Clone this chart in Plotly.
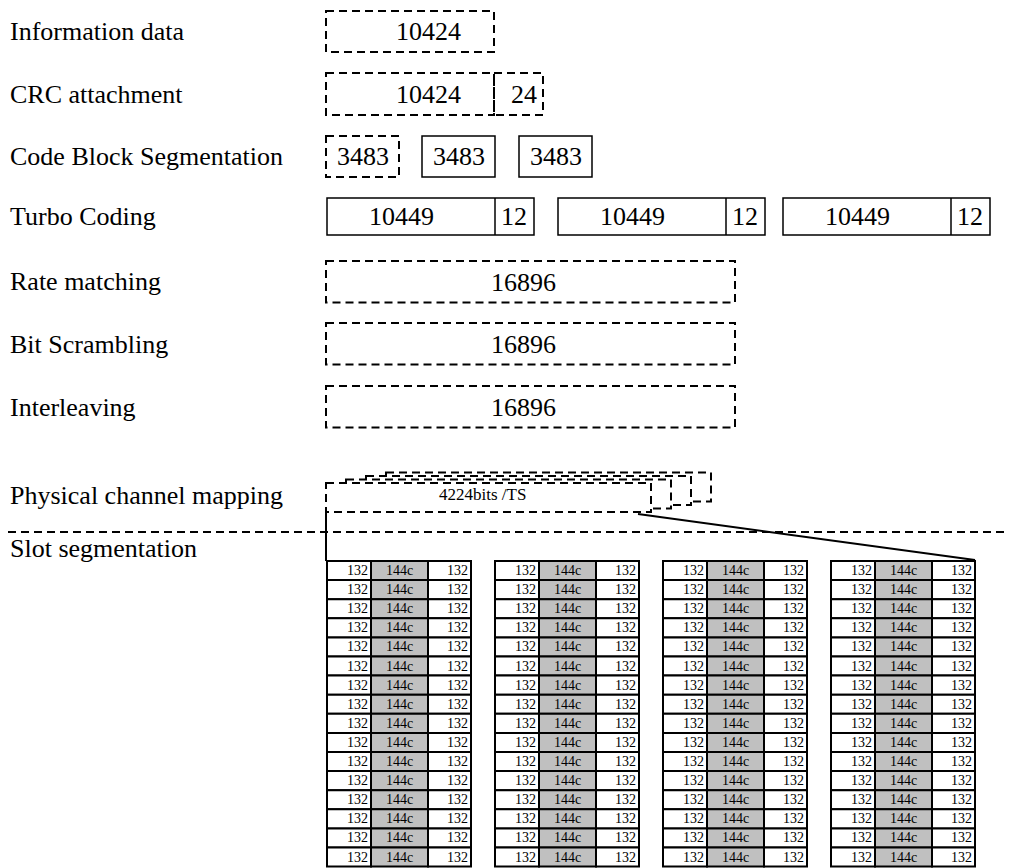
import plotly.graph_objects as go

# stage names (left column)
stages = ["Information data", "CRC attachment", "Code Block Segmentation", "Turbo Coding",
          "Rate matching", "Bit Scrambling", "Interleaving", "Physical channel mapping",
          "Slot segmentation"]

info_bits = "10424"
crc_bits = "24"
cb_sizes = ["3483", "3483", "3483"]
turbo_sizes = ["10449", "10449", "10449"]
tail_bits = ["12", "12", "12"]
rm_blocks = ["16896", "16896", "16896"]   # rate matching, scrambling, interleaving
ts_label = "4224bits /TS"
n_ts = 4
n_rows = 16
slot_cells = ["132", "144c", "132"]

W, H = 1016, 868
PAD = 8  # page body margin, so axis units match window pixels
FONT = "Times New Roman, Liberation Serif, serif"
DASH = "8px,5px"

shapes = []
annots = []


def box(x0, y0, x1, y1, dashed=True, fill="rgba(0,0,0,0)", width=2):
    shapes.append(dict(type="rect", x0=x0, y0=y0, x1=x1, y1=y1, xref="x", yref="y",
                       line=dict(color="black", width=width, dash=DASH if dashed else "solid"),
                       fillcolor=fill, layer="above"))


def line(x0, y0, x1, y1, dashed=False, width=2):
    shapes.append(dict(type="line", x0=x0, y0=y0, x1=x1, y1=y1, xref="x", yref="y",
                       line=dict(color="black", width=width, dash=DASH if dashed else "solid"),
                       layer="above"))


def text(x, y, s, size=26, anchor="center"):
    annots.append(dict(x=x, y=y, text=s, showarrow=False, xref="x", yref="y",
                       xanchor=anchor, yanchor="middle",
                       font=dict(family=FONT, size=size, color="black")))


# left labels
stage_y = [31.5, 94, 156.5, 216.5, 281.5, 344, 407, 495, 548]
for name, y in zip(stages, stage_y):
    text(8, y, name, anchor="left")

# information data
box(326, 11, 494, 52)
text(428, 31.5, info_bits)

# crc attachment
box(326, 73, 494, 115)
box(494, 73, 543, 115)
text(428, 94, info_bits)
text(524, 94, crc_bits)

# code block segmentation
for i, (x0, s) in enumerate(zip([326, 422, 519], cb_sizes)):
    box(x0, 136, x0 + 73, 177, dashed=(i == 0), width=2 if i == 0 else 1.5)
    text(x0 + 36.5, 156.5, s)

# turbo coding
for x0, s, t in zip([327, 558, 783], turbo_sizes, tail_bits):
    box(x0, 198, x0 + 207, 235, dashed=False, width=1.5)
    line(x0 + 168, 198, x0 + 168, 235, width=1.5)
    text(x0 + 74, 216.5, s)
    text(x0 + 187, 216.5, t)

# rate matching / bit scrambling / interleaving
for y0, s in zip([261, 323, 386], rm_blocks):
    box(326, y0, 735, y0 + 41.5)
    text(523, y0 + 21, s)

# physical channel mapping: stacked timeslot boxes, back to front
for k in range(n_ts - 1, -1, -1):
    box(326 + 20 * k, 483 - 3.5 * k, 651 + 20 * k, 512 - 3.5 * k, fill="white")
text(482, 494, ts_label, size=17)

# separator and zoom lines
line(8, 532, W, 532, dashed=True)
line(326, 512, 326, 561)
line(638, 514, 975, 560)

# slot segmentation grids
col_w = [44, 57, 43]
row_h = 19.1
for g in range(n_ts):
    gx = 327 + 168 * g
    for r in range(n_rows):
        y0 = 561 + r * row_h
        x = gx
        for c, (w, s) in enumerate(zip(col_w, slot_cells)):
            box(x, y0, x + w, y0 + row_h, dashed=False, width=2,
                fill="#c0c0c0" if c == 1 else "white")
            if c == 1:
                text(x + w / 2, y0 + row_h / 2, s, size=14)
            else:
                text(x + w - 1.5, y0 + row_h / 2, s, size=14, anchor="right")
            x += w

fig = go.Figure()
fig.update_layout(
    width=W - PAD, height=H - PAD,
    margin=dict(l=0, r=0, t=0, b=0),
    paper_bgcolor="white", plot_bgcolor="white",
    xaxis=dict(range=[PAD, W], visible=False, fixedrange=True),
    yaxis=dict(range=[H, PAD], visible=False, fixedrange=True),
    shapes=shapes, annotations=annots, showlegend=False,
)
fig.write_html("out.html")
